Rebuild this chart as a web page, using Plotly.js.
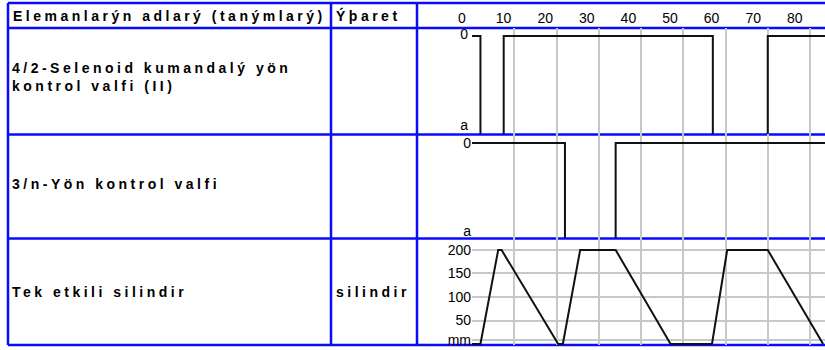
<!DOCTYPE html>
<html><head><meta charset="utf-8">
<script src="https://cdn.plot.ly/plotly-3.0.1.min.js"></script>
<style>
html,body{margin:0;padding:0;background:#fff;}
#chart{width:825px;height:350px;}
.annotation-text{letter-spacing:3.5px;}
g.xtick text{letter-spacing:3.5px;}
g.ytick text{letter-spacing:3px;}
</style></head><body><div id="chart"></div>
<script>
// ---- data ----
const headerTitles = ["Elemanlarýn adlarý (tanýmlarý)", "Ýþaret"];
const rowNames = ["4/2-Selenoid kumandalý yön<br>kontrol valfi (II)", "3/n-Yön kontrol valfi", "Tek etkili silindir"];
const rowSymbols = ["", "", "silindir"];
const timeTicks = [0, 10, 20, 30, 40, 50, 60, 70, 80];
const valveStateText = ["a", "0"];
const valve1Time = [0, 2, 2, 7.5, 7.5, 57, 57, 70, 70, 84];
const valve1State = [1, 1, 0, 0, 1, 1, 0, 0, 1, 1];
const valve2Time = [0, 22, 22, 34, 34, 84];
const valve2State = [1, 1, 0, 0, 1, 1];
const cylTime = [0, 2, 6.2, 7, 20.4, 21.5, 25.6, 34, 47, 56.8, 60.4, 70, 83.1];
const cylStroke = [0, 0, 200, 200, 0, 0, 200, 200, 0, 0, 200, 200, 0];
const strokeTicks = [0, 50, 100, 150, 200];
const strokeTickText = ["mm", "50", "100", "150", "200"];

// ---- layout helpers ----
const W = 825, H = 350;
const fx = p => p / W, fy = p => 1 - p / H;
const FONT = 'Liberation Sans, Arial, sans-serif';
const tickFont = {family: FONT, size: 14, color: '#000'};
const gridC = '#c8c8c8';
const blue = '#0a0aff';
const xRange = [0, (825 - 472) / 4.225];

function rowX(anchor) {
  return {domain: [fx(472), 1], range: xRange, anchor: anchor, tickvals: timeTicks,
    showticklabels: false, showgrid: true, gridcolor: gridC, gridwidth: 2,
    zeroline: false, showline: false, ticks: '', fixedrange: true};
}
function stateY(dom, range, tv) {
  return {domain: dom, range: range, tickvals: tv, ticktext: valveStateText, tickfont: tickFont,
    showgrid: false, zeroline: false, showline: false, ticks: '', fixedrange: true, anchor: 'x'};
}

const lineStyle = {color: '#111', width: 2};
const traces = [
  {x: valve1Time, y: valve1State, xaxis: 'x', yaxis: 'y', mode: 'lines', line: lineStyle, hoverinfo: 'skip'},
  {x: valve2Time, y: valve2State, xaxis: 'x2', yaxis: 'y2', mode: 'lines', line: lineStyle, hoverinfo: 'skip'},
  {x: cylTime, y: cylStroke, xaxis: 'x3', yaxis: 'y3', mode: 'lines', line: lineStyle, hoverinfo: 'skip'},
  {x: [], y: [], xaxis: 'x4', yaxis: 'y4', mode: 'lines', hoverinfo: 'skip'}
];

const shapes = [];
[3, 28, 134.5, 238.5, 345].forEach(y => shapes.push({type: 'line', xref: 'paper', yref: 'paper',
  x0: fx(8), x1: 1, y0: fy(y), y1: fy(y), line: {color: blue, width: 2.5}, layer: 'below'}));
[8, 331, 417].forEach(x => shapes.push({type: 'line', xref: 'paper', yref: 'paper',
  x0: fx(x), x1: fx(x), y0: fy(3), y1: fy(345), line: {color: blue, width: 2.5}, layer: 'below'}));

const annFont = {family: FONT, size: 14, color: '#000', weight: 'bold'};
const rowCenters = [77, 184, 292];
const annotations = [
  {text: headerTitles[0], x: fx(11), y: fy(16), xanchor: 'left', yanchor: 'middle'},
  {text: headerTitles[1], x: fx(334), y: fy(16), xanchor: 'left', yanchor: 'middle'}
];
rowNames.forEach((t, i) => annotations.push({text: t, x: fx(10), y: fy(rowCenters[i]), xanchor: 'left', yanchor: 'middle', align: 'left'}));
rowSymbols.forEach((t, i) => { if (t) annotations.push({text: t, x: fx(334), y: fy(rowCenters[i]), xanchor: 'left', yanchor: 'middle'}); });
annotations.forEach(a => { a.xref = 'paper'; a.yref = 'paper'; a.showarrow = false; a.font = annFont; });

const layout = {
  width: W, height: H, margin: {l: 0, r: 0, t: 0, b: 0},
  paper_bgcolor: '#fff', plot_bgcolor: 'rgba(0,0,0,0)', showlegend: false,
  font: {family: FONT, size: 14, color: '#000'},
  xaxis: rowX('y'), xaxis2: rowX('y2'), xaxis3: rowX('y3'),
  xaxis4: {domain: [fx(417), 1], range: [-10.82, 87.26], anchor: 'free', position: fy(25.5), side: 'top',
    tickvals: timeTicks, tickfont: tickFont, showgrid: false, zeroline: false, showline: false, ticks: '', fixedrange: true},
  yaxis: stateY([fy(134), fy(28)], [0.0297, 1.079], [0.119, 1.02]),
  yaxis2: Object.assign(stateY([fy(238), fy(134)], [0.0306, 1.0918], [0.102, 1.0]), {anchor: 'x2'}),
  yaxis3: {domain: [fy(345), fy(238)], range: [-2.13, 225.5], anchor: 'x3',
    tickvals: strokeTicks.map(v => v === 0 ? 8 : v), ticktext: strokeTickText, tickfont: tickFont,
    showgrid: true, gridcolor: gridC, gridwidth: 2, zeroline: false, showline: false, ticks: '', fixedrange: true},
  yaxis4: {domain: [fy(28), fy(3)], visible: false, fixedrange: true},
  shapes: shapes,
  annotations: annotations
};

Plotly.newPlot('chart', traces, layout, {staticPlot: true, displayModeBar: false});
</script></body></html>
